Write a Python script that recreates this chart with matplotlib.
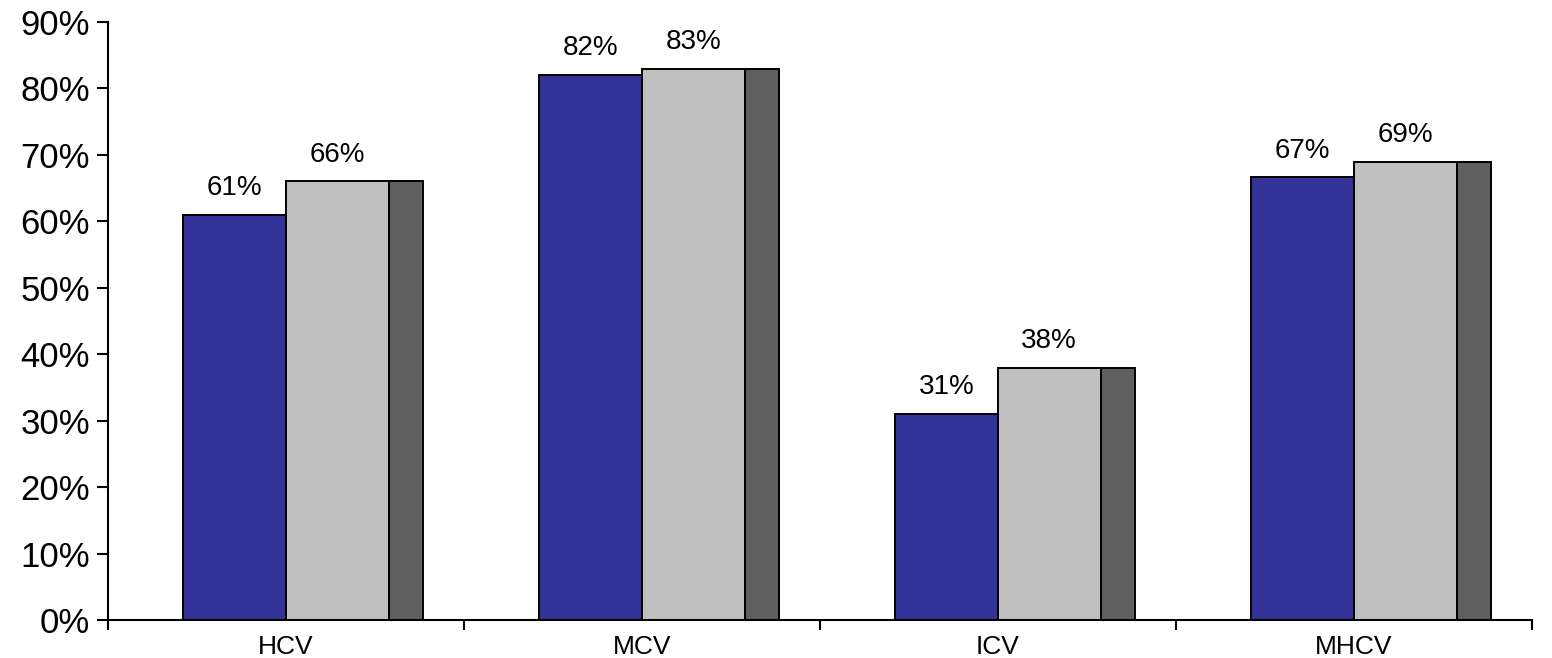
import matplotlib.pyplot as plt
import numpy as np
from matplotlib.ticker import FixedLocator, PercentFormatter

plt.rcParams["font.family"] = ["Liberation Sans", "DejaVu Sans"]

categories = ["HCV", "MCV", "ICV", "MHCV"]
blue_values = [0.61, 0.82, 0.31, 0.666]
gray_values = [0.66, 0.83, 0.38, 0.69]
dark_values = [0.66, 0.83, 0.38, 0.69]
y_ticks = [0.0, 0.1, 0.2, 0.3, 0.4, 0.5, 0.6, 0.7, 0.8, 0.9]

fig = plt.figure(figsize=(15.52, 6.58), dpi=100)
ax = fig.add_axes([108 / 1552, 38 / 658, 1424 / 1552, 598 / 658])

x = np.arange(len(categories))
w_main = 0.288
w_dark = 0.096
edge = dict(edgecolor="black", linewidth=1.4)

blue = ax.bar(x - w_main, blue_values, w_main, align="edge", color="#333399", **edge)
gray = ax.bar(x, gray_values, w_main, align="edge", color="#C0C0C0", **edge)
ax.bar(x + w_main, dark_values, w_dark, align="edge", color="#5F5F5F", **edge)

# value labels sit above the blue and light gray bars only
for bars, vals in ((blue, blue_values), (gray, gray_values)):
    for rect, v in zip(bars, vals):
        ax.annotate(f"{v:.0%}", (rect.get_x() + rect.get_width() / 2, v),
                    xytext=(0, 10), textcoords="offset points",
                    ha="center", va="bottom", fontsize=20)

ax.set_xlim(-0.5, len(categories) - 0.5)
ax.set_ylim(0, 0.9)
ax.set_yticks(y_ticks)
ax.yaxis.set_major_formatter(PercentFormatter(1.0, decimals=0))

ax.set_xticks(x)
ax.set_xticklabels(categories)
ax.xaxis.set_minor_locator(FixedLocator(np.arange(len(categories) + 1) - 0.5))

ax.tick_params(axis="y", labelsize=25, length=8, width=1.5, pad=5, color="black")
ax.tick_params(axis="x", which="major", labelsize=19, length=0, pad=11)
ax.tick_params(axis="x", which="minor", length=7, width=1.5, direction="out")

for side in ("top", "right"):
    ax.spines[side].set_visible(False)
for side in ("left", "bottom"):
    ax.spines[side].set_linewidth(1.5)

fig.savefig("out.png", dpi=100)
